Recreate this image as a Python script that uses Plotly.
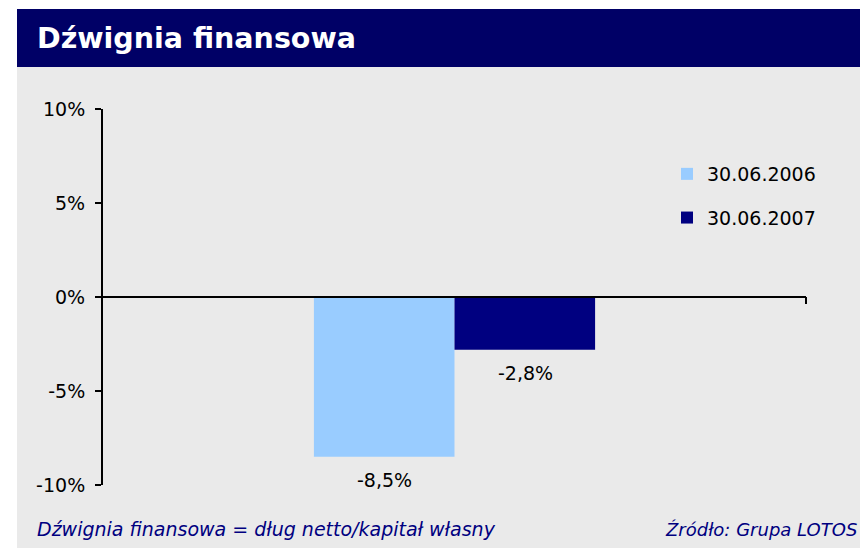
import plotly.graph_objects as go

# Data
categories = ["Dźwignia finansowa"]
series_names = ["30.06.2006", "30.06.2007"]
values_2006 = [-0.085]
values_2007 = [-0.028]
y_tickvals = [-0.10, -0.05, 0.0, 0.05, 0.10]
y_ticktext = ["-10%", "-5%", "0%", "5%", "10%"]

title_text = "Dźwignia finansowa"
footnote_left = "Dźwignia finansowa = dług netto/kapitał własny"
footnote_right = "Źródło: Grupa LOTOS"

# The page body has an 8px margin, so the figure is offset by 8px.
OFF = 8
VW, VH = 868, 548
W, H = VW - OFF, VH - OFF
FONT = "DejaVu Sans"


def px_x(p):
    return (p - OFF) / W


def px_y(p):
    return 1 - (p - OFF) / H


fig = go.Figure()
colors = ["#99CCFF", "#000080"]
for name, vals, col, grp in zip(series_names, [values_2006, values_2007], colors, ["a", "b"]):
    fig.add_trace(go.Bar(
        x=categories, y=vals, name=name, marker=dict(color=col, line=dict(width=0)),
        legendgroup=grp, hoverinfo="skip",
    ))

# data labels below bars
shifts = [-70.5, 70.5]
for vals, sh in zip([values_2006, values_2007], shifts):
    for c, v in zip(categories, vals):
        fig.add_annotation(
            x=c, y=v, xref="x", yref="y", text=f"{v*100:.1f}%".replace(".", ","),
            showarrow=False, yanchor="top", xshift=sh, yshift=-10,
            font=dict(family=FONT, size=19, color="black"),
        )

shapes = [
    # gray panel
    dict(type="rect", xref="paper", yref="paper", x0=px_x(17), x1=1, y0=0, y1=px_y(67),
         fillcolor="#EAEAEA", line=dict(width=0), layer="below"),
    # title bar
    dict(type="rect", xref="paper", yref="paper", x0=px_x(17), x1=1, y0=px_y(67), y1=px_y(9),
         fillcolor="#000066", line=dict(width=0), layer="below"),
    # zero line
    dict(type="line", xref="x domain", yref="y", x0=0, x1=1, y0=0, y1=0,
         line=dict(color="black", width=2)),
    # right end tick on category axis
    dict(type="line", xref="x domain", yref="y", ysizemode="pixel", yanchor=0,
         x0=1, x1=1, y0=0, y1=-7, line=dict(color="black", width=2)),
]

fig.add_annotation(xref="paper", yref="paper", x=px_x(35), y=px_y(39), xanchor="left", yanchor="middle",
                   text=f"<b>{title_text}</b>", showarrow=False,
                   font=dict(family=FONT, size=28.5, color="white"))
fig.add_annotation(xref="paper", yref="paper", x=px_x(35), y=px_y(529), xanchor="left", yanchor="middle",
                   text=f"<i>{footnote_left}</i>", showarrow=False,
                   font=dict(family=FONT, size=19, color="#000080"))
fig.add_annotation(xref="paper", yref="paper", x=px_x(663), y=px_y(529), xanchor="left", yanchor="middle",
                   text=f"<i>{footnote_right}</i>", showarrow=False,
                   font=dict(family=FONT, size=18, color="#000080"))

fig.update_layout(
    width=W, height=H,
    margin=dict(l=0, r=0, t=0, b=0, pad=0, autoexpand=False),
    paper_bgcolor="white", plot_bgcolor="rgba(0,0,0,0)",
    barmode="group", bargap=0.6, bargroupgap=0,
    shapes=shapes,
    font=dict(family=FONT, size=19, color="black"),
    legend=dict(x=px_x(667), y=px_y(155), xanchor="left", yanchor="top",
                bgcolor="rgba(0,0,0,0)", tracegroupgap=16,
                font=dict(family=FONT, size=19, color="black")),
    xaxis=dict(domain=[px_x(103), px_x(806)], showticklabels=False, showline=False,
               showgrid=False, zeroline=False, fixedrange=True, automargin=False),
    yaxis=dict(domain=[px_y(485), px_y(109)], range=[-0.10, 0.10],
               tickvals=y_tickvals, ticktext=y_ticktext,
               showline=True, linecolor="black", linewidth=2,
               ticks="outside", ticklen=6, tickwidth=2, tickcolor="black",
               showgrid=False, zeroline=False, ticklabelstandoff=6, automargin=False),
)

fig.write_html("out.html")
